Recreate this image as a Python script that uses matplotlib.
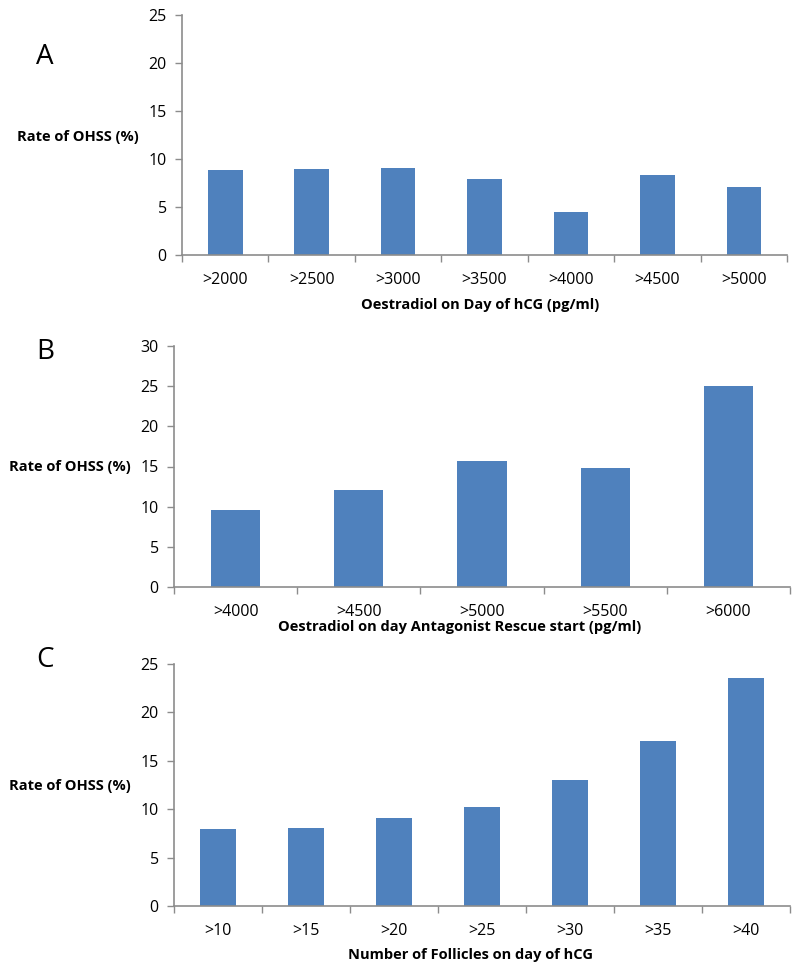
import matplotlib
matplotlib.use("Agg")
import matplotlib.pyplot as plt

plt.rcParams['font.family'] = ['Open Sans', 'DejaVu Sans']

# ---- data ----
cats_a = [">2000", ">2500", ">3000", ">3500", ">4000", ">4500", ">5000"]
vals_a = [8.9, 9.0, 9.1, 7.9, 4.5, 8.3, 7.05]
cats_b = [">4000", ">4500", ">5000", ">5500", ">6000"]
vals_b = [9.6, 12.1, 15.7, 14.8, 25.0]
cats_c = [">10", ">15", ">20", ">25", ">30", ">35", ">40"]
vals_c = [8.0, 8.1, 9.1, 10.2, 13.0, 17.0, 23.6]

letters = ["A", "B", "C"]
ylabel = "Rate of OHSS (%)"
xlabels = ["Oestradiol on Day of hCG (pg/ml)",
           "Oestradiol on day Antagonist Rescue start (pg/ml)",
           "Number of Follicles on day of hCG"]
ymax = [25, 30, 25]

W, H = 800, 973
fig = plt.figure(figsize=(W / 100, H / 100), dpi=100)

BAR = "#4F81BD"
AX = "#8C8C8C"

def px_axes(left, top, right, bottom):
    return fig.add_axes([left / W, 1 - bottom / H, (right - left) / W, (bottom - top) / H])

boxes = [(182, 15, 787, 255), (174, 346, 790, 587), (174, 664, 790, 906)]
letter_y = [57, 352, 660]
ylabel_pos = [(78, 137), (70, 467), (70, 786)]
xlabel_pos = [(480, 305), (460, 627), (470, 955)]

datasets = [(cats_a, vals_a), (cats_b, vals_b), (cats_c, vals_c)]

for i, ((cats, vals), box) in enumerate(zip(datasets, boxes)):
    ax = px_axes(*box)
    n = len(cats)
    x = list(range(n))
    ax.bar(x, vals, width=0.4, color=BAR, zorder=2)
    ax.set_xlim(-0.5, n - 0.5)
    ax.set_ylim(0, ymax[i])
    ax.set_yticks(list(range(0, ymax[i] + 1, 5)))
    ax.set_xticks(x)
    ax.set_xticklabels(cats)
    ax.set_xticks([k - 0.5 for k in range(n + 1)], minor=True)
    ax.tick_params(axis='x', which='major', length=0, pad=12, labelsize=11.5)
    ax.tick_params(axis='x', which='minor', length=5, width=1, color=AX, direction='out')
    ax.tick_params(axis='y', length=5, width=1, color=AX, direction='out', pad=6, labelsize=11.5)
    for s in ['top', 'right']:
        ax.spines[s].set_visible(False)
    for s in ['left', 'bottom']:
        ax.spines[s].set_color(AX)
        ax.spines[s].set_linewidth(1.2)
    fig.text(45 / W, 1 - letter_y[i] / H, letters[i], fontsize=20, ha='center', va='center')
    fig.text(ylabel_pos[i][0] / W, 1 - ylabel_pos[i][1] / H, ylabel, fontsize=10.5,
             fontweight='bold', ha='center', va='center')
    fig.text(xlabel_pos[i][0] / W, 1 - xlabel_pos[i][1] / H, xlabels[i], fontsize=10.5,
             fontweight='bold', ha='center', va='center')

fig.savefig("out.png", dpi=100, facecolor='white')
